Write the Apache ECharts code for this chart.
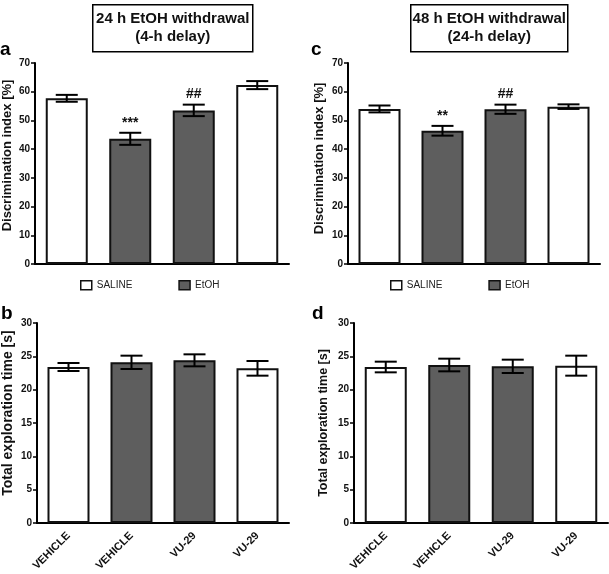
<!DOCTYPE html>
<html>
<head>
<meta charset="utf-8">
<script src="https://cdn.jsdelivr.net/npm/echarts@6/dist/echarts.min.js"></script>
<style>
html,body{margin:0;padding:0;background:#fff;}
#chart{width:609px;height:574px;}
</style>
</head>
<body>
<div id="chart"></div>
<script>
// ---- data ----
const categories = ['VEHICLE', 'VEHICLE', 'VU-29', 'VU-29'];
const groupOf = ['SALINE', 'EtOH', 'EtOH', 'SALINE'];
const legendNames = ['SALINE', 'EtOH'];

const meanA = [57.7, 43.6, 53.5, 62.3];
const semA  = [1.2, 2.1, 2.0, 1.4];
const annotA = ['', '***', '##', ''];

const meanC = [54.0, 46.4, 53.9, 54.8];
const semC  = [1.2, 1.7, 1.6, 0.8];
const annotC = ['', '**', '##', ''];

const meanB = [23.4, 24.1, 24.4, 23.2];
const semB  = [0.6, 1.0, 0.9, 1.1];

const meanD = [23.4, 23.7, 23.5, 23.6];
const semD  = [0.8, 0.95, 1.0, 1.5];

const ticksDI = [0, 10, 20, 30, 40, 50, 60, 70];
const ticksTE = [0, 5, 10, 15, 20, 25, 30];

const titleLeft = ['24 h EtOH withdrawal', '(4-h delay)'];
const titleRight = ['48 h EtOH withdrawal', '(24-h delay)'];
const panelLetters = ['a', 'b', 'c', 'd'];
const yNameDI = 'Discrimination index [%]';
const yNameTE = 'Total exploration time [s]';

// ---- styling ----
const FONT = '"Liberation Sans", Arial, Helvetica, sans-serif';
const DARK = '#5e5e5e';

const grids = [
  {left: 35, top: 63, width: 254, height: 201},   // a
  {left: 35, top: 323, width: 254, height: 200},  // b
  {left: 348, top: 63, width: 252, height: 201},  // c
  {left: 354, top: 323, width: 254, height: 200}  // d
];

const panels = [
  {mean: meanA, sem: semA, annot: annotA, ticks: ticksDI, name: yNameDI, showX: false, nameGap: 21, nameSize: 13, shift: 16},
  {mean: meanB, sem: semB, annot: null, ticks: ticksTE, name: yNameTE, showX: true, nameGap: 22, nameSize: 14, shift: 20},
  {mean: meanC, sem: semC, annot: annotC, ticks: ticksDI, name: yNameDI, showX: false, nameGap: 22, nameSize: 13, shift: 10},
  {mean: meanD, sem: semD, annot: null, ticks: ticksTE, name: yNameTE, showX: true, nameGap: 24, nameSize: 12.5, shift: 0}
];

const xAxes = [], yAxes = [], series = [];

panels.forEach((p, k) => {
  xAxes.push({
    type: 'category', gridIndex: k, data: categories,
    axisLine: {show: true, lineStyle: {color: '#000', width: 2}},
    axisTick: {show: false},
    axisLabel: {
      show: p.showX, rotate: 45, margin: 11, interval: 0,
      fontFamily: FONT, fontWeight: 'bold', fontSize: 11, color: '#111'
    }
  });
  const t = p.ticks;
  yAxes.push({
    type: 'value', gridIndex: k,
    min: t[0], max: t[t.length - 1], interval: t[1] - t[0],
    name: p.name, nameLocation: 'middle', nameGap: p.nameGap,
    nameTextStyle: {
      fontFamily: FONT, fontWeight: 'bold', fontSize: p.nameSize, color: '#111',
      padding: [0, 0, 0, p.shift]
    },
    axisLine: {show: true, lineStyle: {color: '#000', width: 2}},
    axisTick: {show: true, length: 4, lineStyle: {color: '#000', width: 1.5}},
    axisLabel: {fontFamily: FONT, fontWeight: 'bold', fontSize: 10, color: '#111', margin: 5},
    splitLine: {show: false}
  });

  legendNames.forEach((g) => {
    series.push({
      type: 'bar', name: g, xAxisIndex: k, yAxisIndex: k,
      barWidth: 42, barGap: '-100%',
      itemStyle: {color: g === 'SALINE' ? '#fff' : DARK, borderColor: '#111', borderWidth: 2},
      data: p.mean.map((v, i) => groupOf[i] === g ? v : '-'),
      emphasis: {disabled: true}
    });
  });

  const annot = p.annot;
  series.push({
    type: 'custom', xAxisIndex: k, yAxisIndex: k, z: 10,
    data: p.mean.map((v, i) => [i, v - p.sem[i], v + p.sem[i]]),
    renderItem: function (params, api) {
      const i = api.value(0);
      const top = api.coord([i, api.value(2)]);
      const bot = api.coord([i, api.value(1)]);
      const x = top[0], hw = 11;
      const st = {stroke: '#000', lineWidth: 2};
      const ch = [
        {type: 'line', shape: {x1: x, y1: top[1], x2: x, y2: bot[1]}, style: st},
        {type: 'line', shape: {x1: x - hw, y1: top[1], x2: x + hw, y2: top[1]}, style: st},
        {type: 'line', shape: {x1: x - hw, y1: bot[1], x2: x + hw, y2: bot[1]}, style: st}
      ];
      if (annot && annot[params.dataIndex]) {
        ch.push({
          type: 'text',
          style: {
            x: x, y: top[1] - 3, text: annot[params.dataIndex],
            align: 'center', verticalAlign: 'bottom',
            font: 'bold 14px ' + FONT, fill: '#111'
          }
        });
      }
      return {type: 'group', children: ch};
    }
  });
});

function titleBox(x, w, lines) {
  return {
    type: 'group', left: x, top: 4,
    children: [
      {type: 'rect', shape: {x: 0, y: 0, width: w, height: 47}, style: {fill: '#fff', stroke: '#000', lineWidth: 1.5}},
      {type: 'text', style: {x: w / 2, y: 14, text: lines[0], align: 'center', verticalAlign: 'middle', font: 'bold 15px ' + FONT, fill: '#111'}},
      {type: 'text', style: {x: w / 2, y: 32, text: lines[1], align: 'center', verticalAlign: 'middle', font: 'bold 15px ' + FONT, fill: '#111'}}
    ]
  };
}

function letter(t, x, y) {
  return {type: 'text', left: x, top: y, style: {text: t, font: 'bold 19px ' + FONT, fill: '#000'}};
}

const legendCommon = {
  orient: 'horizontal', itemWidth: 11, itemHeight: 9, itemGap: 46, padding: 0,
  icon: 'rect', selectedMode: false, data: legendNames,
  textStyle: {fontFamily: FONT, fontSize: 10, color: '#222'},
  itemStyle: {borderWidth: 1.5}
};

const option = {
  animation: false,
  backgroundColor: '#fff',
  grid: grids,
  xAxis: xAxes,
  yAxis: yAxes,
  legend: [
    Object.assign({left: 80, top: 280}, legendCommon),
    Object.assign({left: 390, top: 280}, legendCommon)
  ],
  series: series,
  graphic: [
    titleBox(92, 160, titleLeft),
    titleBox(410, 157, titleRight),
    letter(panelLetters[0], 0, 40),
    letter(panelLetters[1], 1, 304),
    letter(panelLetters[2], 311, 40),
    letter(panelLetters[3], 312, 304)
  ]
};

const chart = echarts.init(document.getElementById('chart'), null, {renderer: 'canvas'});
chart.setOption(option);
</script>
</body>
</html>
